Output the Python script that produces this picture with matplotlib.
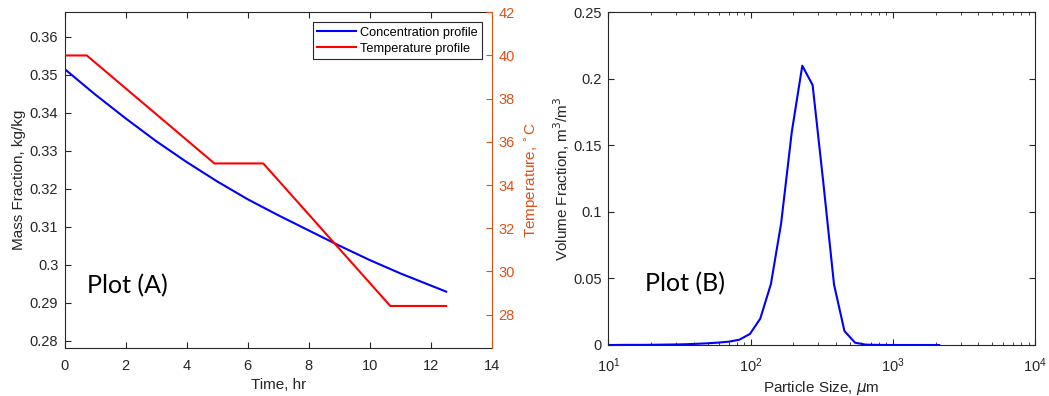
import numpy as np
import matplotlib.pyplot as plt

# ----- data -----
time_conc = [0, 1, 2, 3, 4, 5, 6, 7, 8, 9, 10, 11, 12, 12.5]
mass_frac = [0.3515, 0.3448, 0.3385, 0.3325, 0.3270, 0.3219, 0.3172,
             0.3130, 0.3090, 0.3050, 0.3012, 0.2977, 0.2945, 0.2929]

time_temp = [0, 0.73, 4.91, 6.51, 10.67, 12.5]
temperature = [40, 40, 35, 35, 28.4, 28.4]

particle_size = [10, 10.8, 12.8, 15.2, 18.0, 21.3, 25.3, 30.0, 35.6, 42.2,
                 50.0, 59.3, 70.4, 83.5, 99, 117, 139, 164, 195, 231, 273,
                 324, 386, 457, 543, 644, 764, 906, 1075, 1275, 1512, 1793, 2120]
volume_frac = [0, 0, 0.0001, 0.0001, 0.0001, 0.0002, 0.0003, 0.0004, 0.0006,
               0.0009, 0.0013, 0.0018, 0.0025, 0.0040, 0.0083, 0.0198, 0.0458,
               0.0914, 0.1603, 0.2099, 0.1954, 0.1230, 0.0456, 0.0105, 0.0017,
               0.0003, 0.0001, 0, 0, 0, 0, 0, 0]

TXT = '#262626'
ORANGE = '#D95319'
plt.rcParams['font.family'] = ['Liberation Sans', 'DejaVu Sans']
plt.rcParams['mathtext.fontset'] = 'dejavusans'


def matlab_ticks(ax, right=True):
    ax.tick_params(direction='in', which='both', top=True, right=right,
                   labelsize=10.5, colors=TXT, length=4)
    ax.tick_params(axis='x', pad=8)
    ax.tick_params(axis='y', pad=4.5)
    for s in ax.spines.values():
        s.set_color(TXT)
        s.set_linewidth(0.8)


fig = plt.figure(figsize=(10.49, 3.96), dpi=100)

# -----Plot (A)---------
ax1 = fig.add_axes([0.0615, 0.1205, 0.4075, 0.8485])
l1, = ax1.plot(time_conc, mass_frac, color='#0000ff', lw=1.5,
               label='Concentration profile')
ax1.set_xlim(0, 14)
ax1.set_ylim(0.278, 0.3664)
ax1.set_xticks(np.arange(0, 15, 2))
ax1.set_yticks(np.arange(0.28, 0.361, 0.01))
ax1.set_yticklabels(['0.28', '0.29', '0.3', '0.31', '0.32', '0.33', '0.34',
                     '0.35', '0.36'])
matlab_ticks(ax1, right=False)
ax1.set_xlabel('Time, hr', fontsize=11, color=TXT, labelpad=3)
ax1.set_ylabel('Mass Fraction, kg/kg', fontsize=11, color=TXT, labelpad=3)
ax1.text(0.74, 0.2925, 'Plot (A)', fontsize=18, family='Lato',
         va='baseline', color='black')

ax2 = ax1.twinx()
l2, = ax2.plot(time_temp, temperature, color='#ff0000', lw=1.5,
               label='Temperature profile')
ax2.set_ylim(26.44, 42)
ax2.set_yticks(np.arange(28, 43, 2))
ax2.tick_params(direction='in', labelsize=10.5, colors=ORANGE, length=4,
                pad=4.5)
for s in ax2.spines.values():
    s.set_visible(False)
ax2.spines['right'].set_visible(True)
ax2.spines['right'].set_color(ORANGE)
ax1.spines['right'].set_visible(False)
ax2.set_ylabel('Temperature, $^{\\circ}$C', fontsize=11, color=ORANGE,
               labelpad=6)

leg = ax1.legend(handles=[l1, l2], loc='upper right', fontsize=9.2,
                 fancybox=False, edgecolor=TXT, framealpha=1,
                 borderaxespad=0.8, handlelength=3.0, handletextpad=0.3,
                 borderpad=0.35, labelspacing=0.3)
leg.get_frame().set_linewidth(0.8)

# -----Plot (B)---------
ax3 = fig.add_axes([0.5799, 0.1288, 0.4068, 0.840])
ax3.plot(particle_size, volume_frac, color='#0000ff', lw=1.5)
ax3.set_xscale('log')
ax3.set_xlim(10, 1e4)
ax3.set_ylim(0, 0.25)
ax3.set_yticks([0, 0.05, 0.1, 0.15, 0.2, 0.25])
ax3.set_yticklabels(['0', '0.05', '0.1', '0.15', '0.2', '0.25'])
matlab_ticks(ax3)
ax3.tick_params(which='minor', length=2.5)
ax3.set_xlabel('Particle Size, $\\mu$m', fontsize=11, color=TXT, labelpad=3)
ax3.set_ylabel('Volume Fraction, m$^3$/m$^3$', fontsize=11, color=TXT,
               labelpad=1)
ax3.text(18.1, 0.040, 'Plot (B)', fontsize=18, family='Lato',
         va='baseline', color='black')

fig.savefig('out.png', dpi=100)
